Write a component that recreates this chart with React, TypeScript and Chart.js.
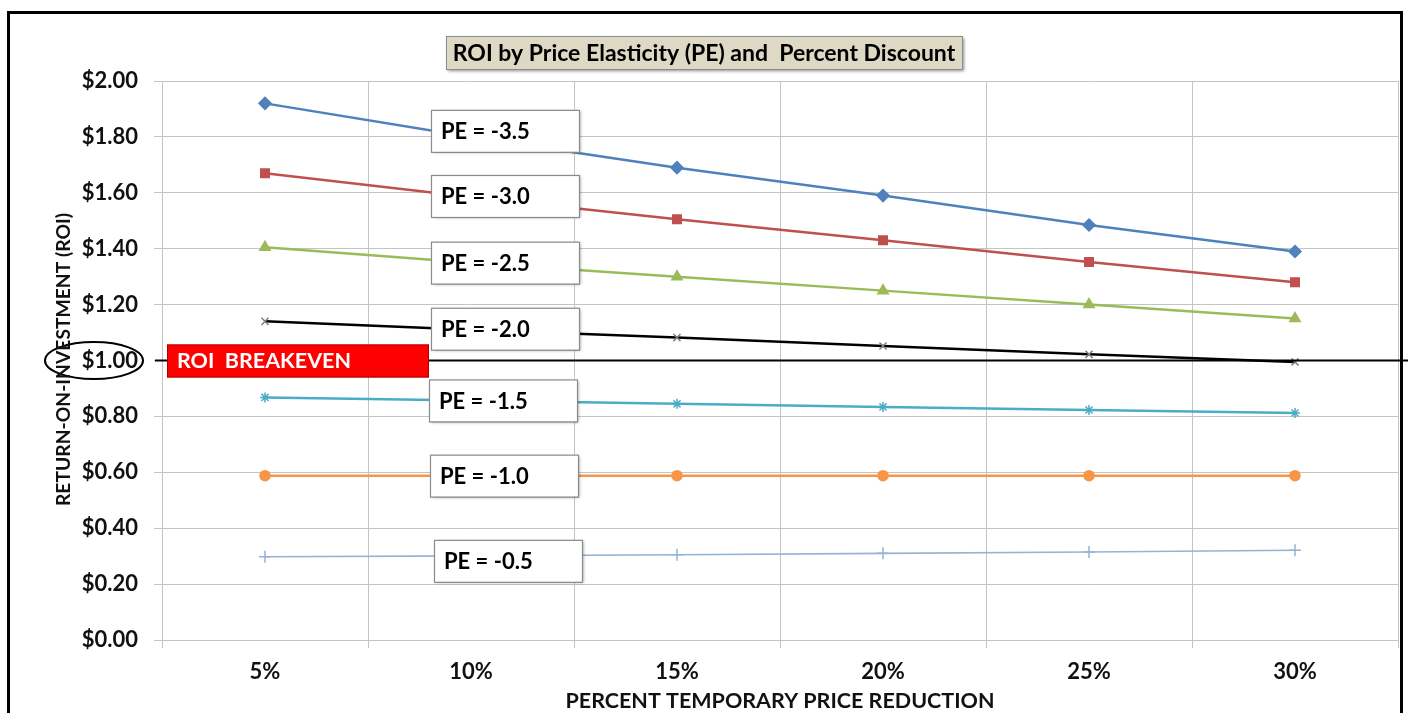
import React, { useEffect, useRef } from "react";
import { Chart, registerables } from "chart.js";

Chart.register(...registerables);

// ---------- data ----------
const categories = ["5%", "10%", "15%", "20%", "25%", "30%"];
const seriesNames = ["PE = -3.5", "PE = -3.0", "PE = -2.5", "PE = -2.0", "PE = -1.5", "PE = -1.0", "PE = -0.5"];
const pe35 = [1.92, 1.8, 1.69, 1.59, 1.485, 1.39];
const pe30 = [1.67, 1.585, 1.505, 1.43, 1.352, 1.28];
const pe25 = [1.405, 1.35, 1.3, 1.25, 1.2, 1.15];
const pe20 = [1.14, 1.11, 1.082, 1.052, 1.022, 0.995];
const pe15 = [0.868, 0.857, 0.845, 0.834, 0.823, 0.812];
const pe10 = [0.588, 0.588, 0.588, 0.588, 0.588, 0.588];
const pe05 = [0.298, 0.301, 0.305, 0.31, 0.315, 0.321];
const breakevenValue = 1.0;
const breakevenText = "ROI  BREAKEVEN";
const titleText = "ROI by Price Elasticity (PE) and  Percent Discount";
const yTitleText = "RETURN-ON-INVESTMENT (ROI)";
const xTitleText = "PERCENT TEMPORARY PRICE REDUCTION";
const yMin = 0;
const yMax = 2;
const yStep = 0.2;

// ---------- styles ----------
const FONT = "Lato, 'Open Sans', 'DejaVu Sans', sans-serif";
const colors = ["#4F81BD", "#C0504D", "#9BBB59", "#000000", "#4BACC6", "#F79646", "#95B3D7"];
const markerColors = ["#4F81BD", "#C0504D", "#9BBB59", "#7F7F7F", "#4BACC6", "#F79646", "#95B3D7"];
const markers = ["rectRot", "rect", "triangle", "crossRot", "star", "circle", "cross"];
const markerRadius = [6, 6, 6, 5, 5, 5, 6];
const lineWidths = [2.5, 2.5, 2.5, 2.5, 2.5, 2.5, 1.6];
const labelNudgeY = [-6, -1, 0, -1, 0, 0, 5];
const labelNudgeX = [0, 0, 0, 0, -2, -1, 3];
const GRID = "#C4C4C4";

const seriesData = [pe35, pe30, pe25, pe20, pe15, pe10, pe05];

const overlayPlugin = {
  id: "overlay",
  afterDatasetsDraw(chart: any) {
    const ctx: CanvasRenderingContext2D = chart.ctx;
    const area = chart.chartArea;
    const xs = chart.scales.x;
    const ys = chart.scales.y;
    const yb = ys.getPixelForValue(breakevenValue);
    const x10 = xs.getPixelForValue(1);

    ctx.save();
    // breakeven line
    ctx.strokeStyle = "#000";
    ctx.lineWidth = 2;
    ctx.beginPath();
    ctx.moveTo(area.left - 7, yb);
    ctx.lineTo(chart.width, yb);
    ctx.stroke();

    // red breakeven box
    const rbL = area.left + 5;
    const rbR = x10 - 42;
    ctx.fillStyle = "#FF0000";
    ctx.fillRect(rbL, yb - 16, rbR - rbL, 33);
    ctx.strokeStyle = "#B00000";
    ctx.lineWidth = 1;
    ctx.strokeRect(rbL + 0.5, yb - 15.5, rbR - rbL - 1, 32);
    ctx.fillStyle = "#FFFFFF";
    ctx.font = `bold 21.5px ${FONT}`;
    ctx.textBaseline = "middle";
    ctx.textAlign = "left";
    ctx.fillText(breakevenText, rbL + 10, yb + 1);

    // PE label boxes
    seriesNames.forEach((name, i) => {
      const meta = chart.getDatasetMeta(i);
      const pt = meta.data[1];
      const bx = pt.x - 40 + labelNudgeX[i];
      const by = pt.y - 21 + labelNudgeY[i];
      const bw = 148;
      const bh = 42;
      ctx.save();
      ctx.shadowColor = "rgba(0,0,0,0.35)";
      ctx.shadowBlur = 3;
      ctx.shadowOffsetX = 1.5;
      ctx.shadowOffsetY = 1.5;
      ctx.fillStyle = "#FFFFFF";
      ctx.fillRect(bx, by, bw, bh);
      ctx.restore();
      ctx.strokeStyle = "#8A8A8A";
      ctx.lineWidth = 1.2;
      ctx.strokeRect(bx + 0.5, by + 0.5, bw, bh);
      ctx.fillStyle = "#000";
      ctx.font = `bold 22px ${FONT}`;
      ctx.textAlign = "left";
      ctx.textBaseline = "middle";
      ctx.fillText(name, bx + 10, by + bh / 2 + 1);
    });

    // ellipse around $1.00
    ctx.strokeStyle = "#000";
    ctx.lineWidth = 2;
    ctx.beginPath();
    ctx.ellipse(area.left - 68, yb, 49, 18.5, 0, 0, Math.PI * 2);
    ctx.stroke();

    // chart title box
    const tcx = chart.width / 2;
    const tw = 516;
    const th = 33;
    const tx = tcx - tw / 2;
    const ty = 36;
    ctx.save();
    ctx.shadowColor = "rgba(0,0,0,0.45)";
    ctx.shadowBlur = 3;
    ctx.shadowOffsetX = 2;
    ctx.shadowOffsetY = 2;
    ctx.fillStyle = "#DED9C4";
    ctx.fillRect(tx, ty, tw, th);
    ctx.restore();
    ctx.strokeStyle = "#8C8C8C";
    ctx.lineWidth = 1;
    ctx.strokeRect(tx + 0.5, ty + 0.5, tw, th);
    ctx.fillStyle = "#000";
    ctx.font = `bold 23px ${FONT}`;
    ctx.textAlign = "center";
    ctx.textBaseline = "middle";
    ctx.fillText(titleText, tcx, ty + th / 2 + 1);

    // axis titles
    ctx.fillStyle = "#111";
    ctx.textAlign = "center";
    ctx.textBaseline = "middle";
    ctx.font = `bold 21.5px ${FONT}`;
    ctx.fillText(xTitleText, (area.left + area.right) / 2, 701);
    ctx.font = `bold 19.3px ${FONT}`;
    ctx.save();
    ctx.translate(64, (area.top + area.bottom) / 2 - 1);
    ctx.rotate(-Math.PI / 2);
    ctx.fillText(yTitleText, 0, 0);
    ctx.restore();

    ctx.restore();
  },
};

export default function App() {
  const canvasRef = useRef<HTMLCanvasElement | null>(null);

  useEffect(() => {
    const canvas = canvasRef.current;
    if (!canvas) return;
    const chart = new Chart(canvas, {
      type: "line",
      data: {
        labels: categories,
        datasets: seriesData.map((vals, i) => ({
          label: seriesNames[i],
          data: vals,
          borderColor: colors[i],
          backgroundColor: markerColors[i],
          borderWidth: lineWidths[i],
          pointStyle: markers[i] as any,
          pointRadius: markerRadius[i],
          pointBackgroundColor: markerColors[i],
          pointBorderColor: markerColors[i],
          pointBorderWidth: 1.5,
          tension: 0,
          fill: false,
        })),
      },
      options: {
        animation: false,
        responsive: false,
        devicePixelRatio: 1,
        layout: { padding: { top: 81, right: 10, bottom: 0, left: 0 } },
        plugins: {
          legend: { display: false },
          title: { display: false },
          tooltip: { enabled: false },
        },
        scales: {
          x: {
            type: "category",
            offset: true,
            grid: { offset: true, color: GRID, lineWidth: 1, tickLength: 8, drawTicks: true },
            border: { display: true, color: GRID },
            ticks: {
              font: { family: FONT, size: 22, weight: "bold" },
              color: "#111",
              padding: 11,
              maxRotation: 0,
            },
            afterFit(scale: any) {
              scale.height = 73;
            },
          },
          y: {
            min: yMin,
            max: yMax,
            grid: { color: GRID, lineWidth: 1, tickLength: 8, drawTicks: true },
            border: { display: true, color: GRID },
            ticks: {
              stepSize: yStep,
              font: { family: FONT, size: 22, weight: "bold" },
              color: "#111",
              padding: 16,
              callback: (v: any) => "$" + Number(v).toFixed(2),
            },
            afterFit(scale: any) {
              scale.width = 162;
            },
          },
        },
      },
      plugins: [overlayPlugin],
    });
    return () => chart.destroy();
  }, []);

  return (
    <div style={{ position: "fixed", left: 0, top: 0, width: 1408, height: 713, background: "#fff", overflow: "hidden" }}>
      <canvas ref={canvasRef} width={1408} height={713} style={{ display: "block", width: 1408, height: 713 }} />
      <div
        style={{
          position: "absolute",
          left: 7,
          top: 11,
          width: 1396,
          height: 760,
          border: "3px solid #000",
          boxSizing: "border-box",
          pointerEvents: "none",
        }}
      />
    </div>
  );
}
